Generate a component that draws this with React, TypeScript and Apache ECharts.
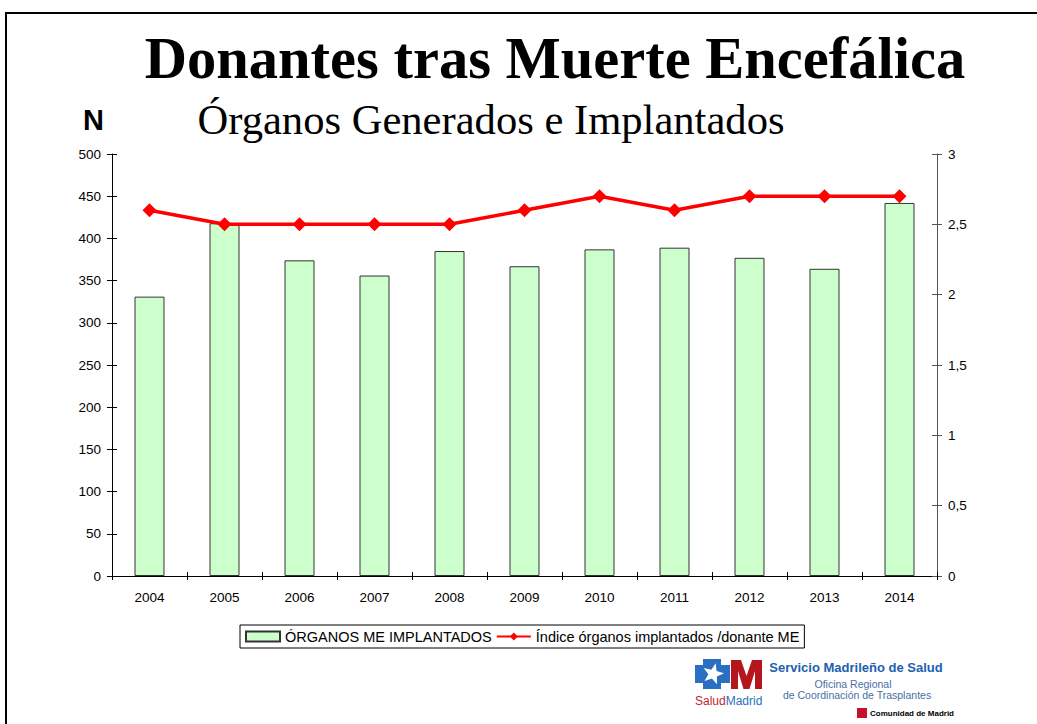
import React, { useEffect, useRef } from "react";
import * as echarts from "echarts";

const years = ["2004", "2005", "2006", "2007", "2008", "2009", "2010", "2011", "2012", "2013", "2014"];
const organosImplantados = [331, 418, 374, 356, 385, 367, 387, 389, 377, 364, 442];
const indiceOrganos = [2.6, 2.5, 2.5, 2.5, 2.5, 2.6, 2.7, 2.6, 2.7, 2.7, 2.7];

const leftMin = 0;
const leftMax = 500;
const leftInterval = 50;
const rightMin = 0;
const rightMax = 3;
const rightInterval = 0.5;

const titleText = "Donantes tras Muerte Encefálica";
const subtitleText = "Órganos Generados e Implantados";
const barName = "ÓRGANOS ME IMPLANTADOS";
const lineName = "Índice órganos implantados /donante ME";

function starPoints(cx: number, cy: number, ro: number, ri: number, rot: number) {
  const pts: number[][] = [];
  for (let i = 0; i < 10; i++) {
    const r = i % 2 === 0 ? ro : ri;
    const a = rot + (i * Math.PI) / 5 - Math.PI / 2;
    pts.push([cx + r * Math.cos(a), cy + r * Math.sin(a)]);
  }
  return pts;
}

export default function App() {
  const ref = useRef<HTMLDivElement>(null);
  useEffect(() => {
    if (!ref.current) return;
    const chart = echarts.init(ref.current, null, { renderer: "svg" });
    const sans = "Liberation Sans, Arial, sans-serif";
    const serif = "Liberation Serif, Times New Roman, serif";
    const axisLabelBase = { color: "#000", fontSize: 13.5, fontFamily: sans };
    chart.setOption({
      animation: false,
      backgroundColor: "#fff",
      grid: { left: 112, right: 100, top: 154, bottom: 148, containLabel: false },
      legend: {
        left: 240,
        top: 625,
        orient: "horizontal",
        borderColor: "#000",
        borderWidth: 1,
        padding: [4, 5, 4, 5],
        itemGap: 4,
        itemWidth: 34,
        itemHeight: 10,
        textStyle: { fontSize: 14.5, color: "#000", fontFamily: sans },
        data: [{ name: barName, icon: "rect" }, { name: lineName }],
      },
      xAxis: [
        {
          type: "category",
          data: years,
          position: "bottom",
          boundaryGap: true,
          axisLine: { show: true, lineStyle: { color: "#000", width: 1 } },
          axisTick: { show: true, inside: false, length: 4, lineStyle: { color: "#000" } },
          axisLabel: { ...axisLabelBase, margin: 14 },
          splitLine: { show: false },
        },
        {
          type: "category",
          data: years,
          position: "bottom",
          boundaryGap: true,
          axisLine: { show: false },
          axisTick: { show: true, inside: true, length: 4, lineStyle: { color: "#000" } },
          axisLabel: { show: false },
          splitLine: { show: false },
        },
      ],
      yAxis: [
        {
          type: "value",
          position: "left",
          min: leftMin,
          max: leftMax,
          interval: leftInterval,
          axisLine: { show: true, lineStyle: { color: "#000", width: 1 } },
          axisTick: { show: true, inside: false, length: 5, lineStyle: { color: "#000" } },
          axisLabel: { ...axisLabelBase, margin: 11 },
          splitLine: { show: false },
        },
        {
          type: "value",
          position: "right",
          min: rightMin,
          max: rightMax,
          interval: rightInterval,
          axisLine: { show: true, lineStyle: { color: "#555", width: 1 } },
          axisTick: { show: true, inside: false, length: 5, lineStyle: { color: "#555" } },
          axisLabel: {
            ...axisLabelBase,
            margin: 11,
            formatter: (v: number) => String(v).replace(".", ","),
          },
          splitLine: { show: false },
        },
        {
          type: "value",
          position: "left",
          min: leftMin,
          max: leftMax,
          interval: leftInterval,
          axisLine: { show: false },
          axisTick: { show: true, inside: true, length: 5, lineStyle: { color: "#000" } },
          axisLabel: { show: false },
          splitLine: { show: false },
        },
        {
          type: "value",
          position: "right",
          min: rightMin,
          max: rightMax,
          interval: rightInterval,
          axisLine: { show: false },
          axisTick: { show: true, inside: true, length: 5, lineStyle: { color: "#555" } },
          axisLabel: { show: false },
          splitLine: { show: false },
        },
      ],
      series: [
        {
          name: barName,
          type: "bar",
          xAxisIndex: 0,
          yAxisIndex: 0,
          data: organosImplantados,
          barWidth: 30,
          itemStyle: { color: "#ccffcc", borderColor: "#333", borderWidth: 1 },
          z: 2,
        },
        {
          name: lineName,
          type: "line",
          xAxisIndex: 0,
          yAxisIndex: 1,
          data: indiceOrganos,
          symbol: "diamond",
          symbolSize: 14,
          lineStyle: { color: "#ff0000", width: 3.5 },
          itemStyle: { color: "#ff0000" },
          z: 3,
        },
      ],
      graphic: [
        {
          type: "polyline",
          shape: { points: [[6, 724], [6, 13], [1037, 13]] },
          style: { stroke: "#000", lineWidth: 2, fill: "none" },
          silent: true,
        },
        {
          type: "text",
          x: 555,
          y: 58,
          style: {
            text: titleText,
            fontFamily: serif,
            fontWeight: "bold",
            fontSize: 58.5,
            fill: "#000",
            textAlign: "center",
            textVerticalAlign: "middle",
          },
        },
        {
          type: "text",
          x: 491,
          y: 119,
          style: {
            text: subtitleText,
            fontFamily: serif,
            fontSize: 42.6,
            fill: "#000",
            textAlign: "center",
            textVerticalAlign: "middle",
          },
        },
        {
          type: "text",
          x: 83,
          y: 120,
          style: {
            text: "N",
            fontFamily: sans,
            fontWeight: "bold",
            fontSize: 29,
            fill: "#000",
            textAlign: "left",
            textVerticalAlign: "middle",
          },
        },
        {
          type: "polygon",
          shape: {
            points: [
              [703, 659], [721, 659], [721, 665], [730, 665], [730, 683], [721, 683],
              [721, 689], [703, 689], [703, 683], [695, 683], [695, 665], [703, 665],
            ],
          },
          style: { fill: "#2b6fc2" },
        },
        {
          type: "polygon",
          shape: { points: starPoints(713, 674, 11, 4.6, 0.25) },
          style: { fill: "#fff" },
        },
        {
          type: "polygon",
          shape: {
            points: [
              [731, 689], [731, 660], [741, 660], [746.5, 676], [752, 660], [762, 660],
              [762, 689], [755, 689], [755, 671], [749.5, 689], [743.5, 689], [738, 671], [738, 689],
            ],
          },
          style: { fill: "#b5161e" },
        },
        {
          type: "text",
          x: 695,
          y: 701,
          style: {
            text: "{r|Salud}{b|Madrid}",
            rich: {
              r: { fill: "#c0272d", fontSize: 12, fontFamily: sans },
              b: { fill: "#2b6fc2", fontSize: 12, fontFamily: sans },
            },
            textAlign: "left",
            textVerticalAlign: "middle",
          },
        },
        {
          type: "text",
          x: 856,
          y: 667,
          style: {
            text: "Servicio Madrileño de Salud",
            fontFamily: sans,
            fontWeight: "bold",
            fontSize: 13,
            fill: "#2160b0",
            textAlign: "center",
            textVerticalAlign: "middle",
          },
        },
        {
          type: "text",
          x: 853,
          y: 684,
          style: {
            text: "Oficina Regional",
            fontFamily: sans,
            fontSize: 10.5,
            fill: "#4a6fa5",
            textAlign: "center",
            textVerticalAlign: "middle",
          },
        },
        {
          type: "text",
          x: 857,
          y: 695,
          style: {
            text: "de Coordinación de Trasplantes",
            fontFamily: sans,
            fontSize: 10.5,
            fill: "#4a6fa5",
            textAlign: "center",
            textVerticalAlign: "middle",
          },
        },
        {
          type: "rect",
          shape: { x: 857, y: 708, width: 10, height: 10 },
          style: { fill: "#c8102e" },
        },
        {
          type: "text",
          x: 870,
          y: 713,
          style: {
            text: "Comunidad de Madrid",
            fontFamily: sans,
            fontWeight: "bold",
            fontSize: 8,
            fill: "#000",
            textAlign: "left",
            textVerticalAlign: "middle",
          },
        },
      ],
    });
    return () => chart.dispose();
  }, []);
  return (
    <div
      ref={ref}
      style={{ position: "absolute", left: 0, top: 0, width: 1037, height: 724, background: "#fff" }}
    />
  );
}
